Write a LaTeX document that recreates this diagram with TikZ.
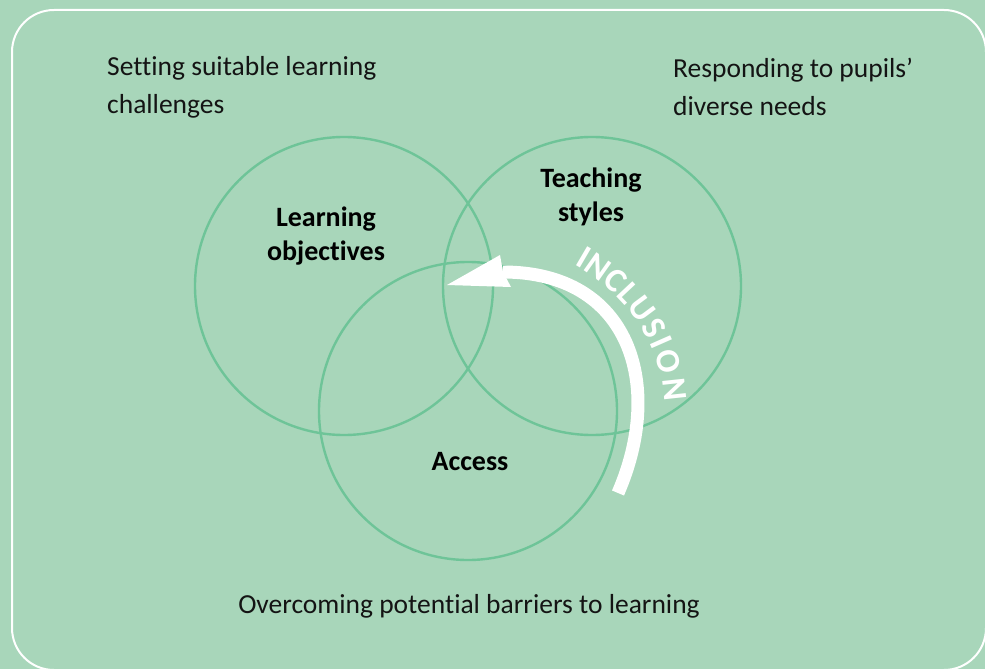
\documentclass[tikz,border=0pt]{standalone}
\usepackage{fontspec}
\setmainfont{Carlito}[Ligatures={NoCommon}]
\usetikzlibrary{calc}
\begin{document}
\definecolor{bg}{RGB}{168,214,186}
\definecolor{ring}{RGB}{110,196,152}
\definecolor{ink}{RGB}{20,20,20}
\begin{tikzpicture}[x=1pt,y=-1pt,
  ringc/.style={draw=ring,line width=2.4pt,circle,minimum size=298pt,inner sep=0pt},
  plain/.style={text=ink,font=\fontsize{27.5}{38}\selectfont,inner sep=0pt,align=left},
  label/.style={text=black,font=\fontsize{28}{34}\selectfont\bfseries,inner sep=0pt,align=center},
  inclch/.style={text=white,inner sep=0pt,anchor=center,font=\fontsize{34}{34}\selectfont\bfseries}]
\useasboundingbox (0,0) rectangle (985,669);
\fill[bg] (0,0) rectangle (985,669);
\draw[white,line width=2pt,rounded corners=42pt] (12,10) rectangle (986,670);
% circles
\node[ringc] (lo) at (344,286) {};
\node[ringc] (ts) at (592,286) {};
\node[ringc] (ac) at (468,411) {};
% labels
\node[label] (lol) at (326,236) {Learning\\objectives};
\node[label] (tsl) at (591,197) {Teaching\\styles};
\node[label] (acl) at (470,462) {Access};
\node[plain,anchor=west] (t1) at (107,87) {Setting suitable learning\\challenges};
\node[plain,anchor=west] (t2) at (673,87) {Responding to pupils’\\diverse needs};
\node[plain] (t3) at (469,606) {Overcoming potential barriers to learning};
% arrow
\coordinate (as) at (618,493);
\coordinate (ae) at (503,272);
\coordinate (tip) at (447,285);
\coordinate (barb) at (500,255);
\coordinate (low) at (511,287);
\draw[white,line width=13pt] (as) .. controls (665,385) and (630,272) .. (ae);
\fill[white] (tip) -- (barb) -- (ae) -- (low) -- cycle;
% INCLUSION
\foreach \ch/\p [count=\k] in {I/0.03,N/0.135,C/0.264,L/0.371,U/0.489,S/0.613,I/0.699,O/0.806,N/0.95} {
  \pgfmathsetmacro\pa{\p-0.01}
  \pgfmathsetmacro\pb{\p+0.01}
  \path (580,255) .. controls (625,280) and (672,330) .. (675,400)
     coordinate[pos=\pa] (pa) coordinate[pos=\pb] (pb) coordinate[pos=\p] (pc);
  \path let \p1=($(pb)-(pa)$), \n1={atan2(\y1,\x1)} in
     node[inclch,rotate=\n1] (inc\k) at (pc) {\ch};
}
\end{tikzpicture}
\end{document}
